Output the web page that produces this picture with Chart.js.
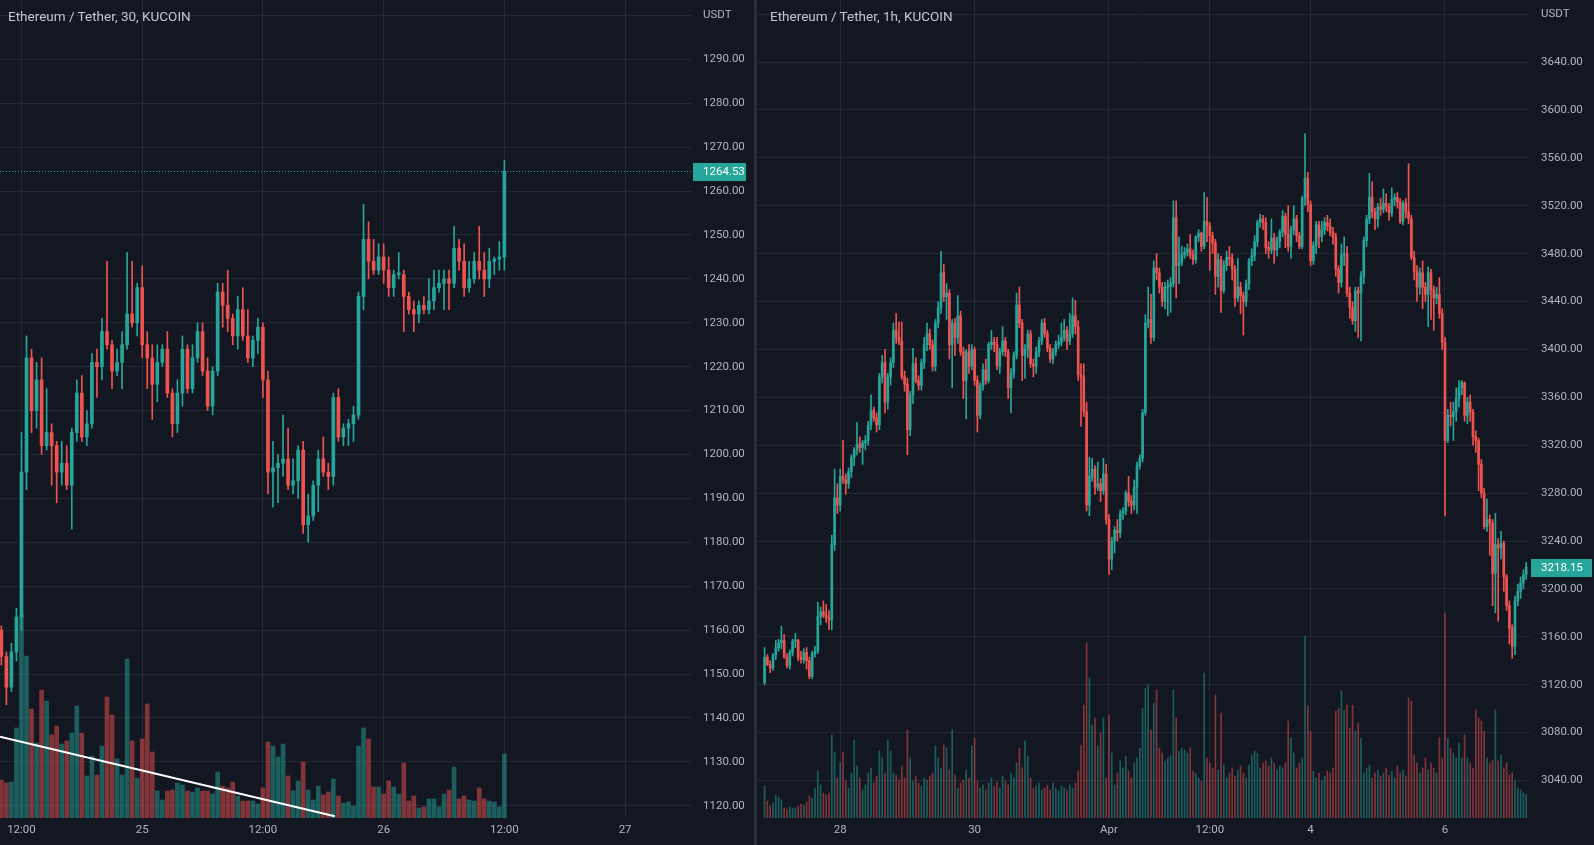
<!DOCTYPE html>
<html>
<head>
<meta charset="utf-8">
<title>ETH / USDT</title>
<script src="https://cdn.jsdelivr.net/npm/chart.js@4.4.1/dist/chart.umd.min.js"></script>
<style>
  html, body { margin: 0; padding: 0; background: #131722; overflow: hidden; }
  #wrap { position: relative; width: 1594px; height: 845px; background: #131722; }
  .pane { position: absolute; top: 0; height: 845px; }
  .pane canvas { display: block; }
  #leftPane { left: 0; width: 754px; }
  #rightPane { left: 757px; width: 837px; }
  #divider { position: absolute; left: 754px; top: 0; width: 3px; height: 845px; background: #2a2e39; }
  .title { position: absolute; top: 8px; font: 13.5px Roboto, sans-serif; color: #c3c6ce; line-height: 16px; white-space: nowrap; }
</style>
</head>
<body>
<div id="wrap">
  <div class="pane" id="leftPane"><canvas id="leftChart" width="754" height="845"></canvas></div>
  <div id="divider"></div>
  <div class="pane" id="rightPane"><canvas id="rightChart" width="837" height="845"></canvas></div>
  <div class="title" style="left:8px">Ethereum / Tether, 30, KUCOIN</div>
  <div class="title" style="left:770px">Ethereum / Tether, 1h, KUCOIN</div>
</div>
<script>
// ---- left chart: 30 min candles, 24 Nov 10:00 -> 26 Nov 12:00 ----
var leftOpen = [1160,1154,1147,1155,1163,1196,1222,1210,1217,1202,1205,1202,1196,1198,1193,1205,1214,1204,1207,1221,
  1220,1228,1225,1219,1221,1225,1232,1230,1238,1225,1222,1216,1221,1224,1214,1207,1214,1224,1215,1222,
  1228,1219,1211,1219,1237,1234,1231,1227,1233,1227,1222,1226,1229,1217,1196,1197,1198,1199,1193,1194,
  1201,1184,1186,1193,1199,1196,1195,1213,1204,1206,1207,1209,1236,1249,1244,1242,1245,1242,1238,1241,
  1241,1236,1233,1232,1234,1233,1235,1238,1239,1240,1239,1247,1244,1238,1240,1244,1242,1240,1244,1244.5,1245];
var leftHigh = [1161,1155,1157,1165,1205,1227,1224,1221,1222,1215,1207,1203,1203,1202,1206,1217,1218,1210,1223,1224,
  1231,1244,1226,1224,1228,1246,1244,1239,1243,1228,1225,1225,1225,1228,1215,1217,1227,1225,1225,1230,
  1230,1222,1220,1239,1239,1242,1232,1236,1238,1233,1227,1231,1230,1219,1203,1200,1209,1206,1199,1202,
  1203,1191,1194,1201,1204,1198,1214,1215,1207,1208,1211,1237,1257,1253,1249,1248,1248,1245,1242,1246,
  1242,1237,1235,1235,1236,1240,1242,1242,1242,1242,1252,1249,1248,1244,1246,1252,1246,1247,1245,1248.5,1267];
var leftLow = [1152,1143,1146,1153,1160,1192,1205,1206,1200,1201,1193,1189,1193,1192,1183,1203,1203,1202,1206,1213,
  1217,1224,1215,1218,1215,1224,1229,1227,1222,1215,1208,1212,1220,1213,1204,1205,1211,1214,1214,1221,
  1218,1210,1209,1218,1229,1228,1225,1224,1226,1221,1220,1223,1213,1191,1188,1189,1195,1192,1191,1190,
  1182,1180,1185,1187,1195,1192,1193,1203,1202,1202,1203,1208,1233,1240,1241,1241,1239,1236,1236,1240,
  1228,1232,1228,1230,1232,1232,1233,1237,1233,1233,1238,1242,1236,1237,1239,1240,1236,1238,1241,1242,1242];
var leftClose = [1154,1147,1155,1163,1196,1222,1210,1217,1202,1205,1202,1196,1198,1193,1205,1214,1204,1207,1221,1220,
  1228,1225,1219,1221,1225,1232,1230,1238,1225,1222,1216,1221,1224,1214,1207,1214,1224,1215,1222,1228,
  1219,1211,1219,1237,1234,1231,1227,1233,1227,1222,1226,1229,1217,1196,1197,1198,1199,1193,1194,1201,
  1184,1186,1193,1199,1196,1195,1213,1204,1206,1207,1209,1236,1249,1244,1242,1245,1242,1238,1241,1241.4,
  1236,1233,1232,1234,1233,1235,1238,1239,1240,1239,1247,1244,1238,1240,1244,1242,1240,1244,1244.5,1245,1264.53];
var leftVolume = [38,35,36,90,203,162,109,75,128,117,83,92,74,77,85,112,85,42,62,43,
  72,121,103,59,43,159,77,40,79,114,66,27,18,27,28,35,33,27,26,30,
  27,27,24,46,32,30,36,22,17,17,17,14,30,76,72,61,74,42,27,37,
  56,28,18,32,23,26,39,22,15,16,12,72,90,79,31,31,24,37,31,24,
  55,17,22,10,11,19,19,11,24,28,51,19,22,18,17,30,19,17,16,11,64];
var leftTickIdx = [4, 28, 52, 76, 100, 124];
var leftTickLabels = ['12:00', '25', '12:00', '26', '12:00', '27'];
var leftPriceTicks = [1120,1130,1140,1150,1160,1170,1180,1190,1200,1210,1220,1230,1240,1250,1260,1270,1280,1290,1300];
// hand drawn trend line on the volume pane
var trendIdx = [-0.27, 66.3];
var trendPrice = [1135.7, 1117.6];

// ---- right chart: 1h candles, 27 Mar 21:00 -> 7 Apr 06:00 ----
var rightOpen = [3122,3143,3137,3134,3145,3151,3155,3157,3143,3136,3147,3156,3157,3143,3141,3147,3140,3127,3146,3148,
  3177,3181,3178,3176,3174,3237,3276,3270,3294,3291,3288,3298,3310,3316,3321,3318,3322,3324,3337,3349,
  3343,3337,3377,3389,3356,3377,3389,3416,3410,3407,3377,3371,3333,3362,3388,3374,3370,3389,3404,3413,
  3404,3386,3422,3435,3464,3444,3447,3404,3422,3410,3428,3398,3374,3398,3386,3400,3374,3345,3370,3383,
  3374,3404,3406,3404,3386,3398,3407,3398,3368,3380,3395,3437,3422,3395,3400,3413,3388,3386,3398,3407,
  3422,3413,3401,3392,3398,3404,3406,3410,3416,3407,3413,3428,3419,3379,3377,3348,3270,3294,3300,3285,
  3288,3282,3296,3258,3225,3240,3249,3247,3263,3265,3280,3273,3270,3285,3303,3309,3347,3422,3425,3410,
  3468,3464,3452,3440,3452,3453,3455,3510,3470,3473,3479,3481,3484,3479,3475,3494,3497,3486,3507,3503,
  3495,3489,3461,3475,3449,3470,3477,3476,3467,3443,3452,3445,3440,3455,3474,3478,3490,3506,3509,3506,
  3485,3483,3493,3483,3490,3498,3511,3496,3486,3500,3509,3495,3486,3526,3543,3521,3474,3487,3504,3494,
  3500,3506,3503,3498,3494,3467,3456,3479,3480,3447,3435,3424,3449,3447,3461,3491,3509,3527,3515,3509,
  3519,3517,3522,3519,3514,3525,3527,3523,3507,3522,3515,3509,3477,3465,3452,3464,3452,3446,3464,3450,
  3443,3446,3430,3406,3324,3345,3344,3348,3359,3368,3372,3345,3356,3348,3327,3324,3304,3280,3252,3258,
  3255,3213,3237,3234,3238,3210,3186,3167,3152,3190,3198,3205,3212];
var rightHigh = [3151,3145,3140,3146,3157,3158,3169,3162,3146,3149,3158,3163,3158,3148,3150,3151,3143,3148,3152,3189,
  3185,3190,3187,3182,3245,3300,3288,3300,3324,3296,3301,3312,3318,3339,3327,3324,3328,3340,3362,3352,
  3347,3380,3395,3400,3380,3393,3422,3430,3423,3423,3382,3376,3365,3401,3393,3378,3392,3410,3422,3417,
  3408,3425,3440,3482,3471,3455,3450,3425,3426,3445,3432,3402,3400,3404,3404,3402,3378,3372,3388,3392,
  3406,3416,3410,3410,3401,3419,3410,3400,3384,3398,3447,3452,3425,3404,3416,3416,3392,3402,3410,3425,
  3426,3416,3404,3401,3407,3412,3422,3425,3419,3430,3443,3441,3424,3388,3388,3356,3310,3309,3303,3306,
  3292,3309,3304,3262,3243,3252,3258,3266,3268,3282,3294,3278,3291,3306,3312,3350,3429,3452,3446,3474,
  3480,3468,3456,3456,3458,3460,3524,3524,3494,3486,3485,3488,3496,3483,3495,3500,3498,3531,3527,3506,
  3498,3492,3480,3478,3474,3482,3486,3480,3470,3476,3456,3448,3458,3476,3484,3495,3508,3513,3512,3510,
  3490,3509,3497,3494,3500,3516,3514,3520,3503,3520,3512,3498,3528,3580,3548,3524,3490,3507,3507,3507,
  3510,3512,3509,3502,3497,3470,3488,3494,3486,3452,3440,3452,3452,3465,3494,3512,3547,3540,3518,3522,
  3526,3534,3530,3522,3535,3530,3531,3526,3524,3526,3555,3512,3482,3470,3468,3474,3456,3469,3467,3453,
  3452,3460,3434,3410,3350,3356,3356,3368,3374,3374,3373,3360,3362,3350,3332,3326,3308,3284,3275,3262,
  3258,3263,3242,3248,3240,3212,3190,3170,3194,3204,3210,3216,3222];
var rightLow = [3120,3136,3130,3132,3141,3148,3150,3142,3134,3133,3144,3151,3140,3138,3138,3133,3125,3125,3143,3146,
  3170,3176,3172,3166,3166,3232,3263,3265,3288,3279,3284,3293,3303,3312,3314,3304,3316,3320,3333,3340,
  3331,3333,3372,3347,3350,3370,3385,3405,3404,3375,3365,3312,3328,3355,3372,3366,3366,3384,3399,3400,
  3382,3382,3418,3430,3440,3425,3392,3368,3395,3405,3395,3359,3342,3380,3383,3370,3331,3342,3366,3371,
  3372,3400,3398,3383,3380,3395,3394,3359,3347,3376,3392,3418,3374,3376,3393,3385,3377,3380,3394,3404,
  3410,3398,3389,3388,3395,3401,3403,3407,3400,3404,3410,3413,3374,3336,3344,3265,3261,3290,3279,3282,
  3273,3279,3254,3212,3216,3230,3240,3243,3258,3262,3269,3263,3266,3263,3300,3306,3345,3418,3405,3407,
  3458,3447,3436,3434,3428,3431,3452,3443,3455,3470,3476,3478,3476,3471,3472,3490,3482,3484,3490,3466,
  3480,3446,3452,3431,3447,3466,3470,3458,3436,3440,3430,3412,3436,3450,3470,3474,3486,3502,3500,3480,
  3476,3480,3472,3478,3485,3494,3485,3482,3476,3496,3490,3484,3484,3520,3515,3470,3471,3480,3485,3490,
  3496,3499,3495,3488,3461,3447,3452,3470,3444,3426,3421,3415,3410,3407,3455,3486,3505,3510,3500,3502,
  3512,3514,3515,3508,3511,3520,3518,3505,3504,3510,3505,3475,3458,3440,3446,3434,3440,3419,3425,3416,
  3438,3426,3400,3261,3322,3336,3324,3340,3352,3362,3340,3338,3340,3320,3314,3282,3276,3250,3248,3228,
  3186,3180,3173,3225,3198,3182,3154,3142,3145,3186,3192,3200,3208];
var rightClose = [3143,3137,3134,3145,3151,3155,3157,3143,3136,3147,3156,3157,3143,3141,3147,3140,3127,3146,3148,3177,
  3181,3178,3176,3174,3237,3276,3270,3294,3291,3288,3298,3310,3316,3321,3318,3322,3324,3337,3349,3343,
  3337,3377,3389,3356,3377,3389,3416,3410,3407,3377,3371,3333,3362,3388,3374,3370,3389,3404,3413,3404,
  3386,3422,3435,3464,3444,3447,3404,3422,3410,3428,3398,3374,3398,3386,3400,3374,3345,3370,3383,3374,
  3404,3406,3404,3386,3398,3407,3398,3368,3380,3395,3437,3422,3395,3400,3413,3388,3386,3398,3407,3422,
  3413,3401,3392,3398,3404,3406,3410,3416,3407,3413,3428,3419,3379,3377,3348,3270,3294,3300,3285,3288,
  3282,3296,3258,3225,3240,3249,3247,3263,3265,3280,3273,3270,3285,3303,3309,3347,3422,3425,3410,3468,
  3464,3452,3440,3452,3453,3455,3510,3470,3473,3479,3481,3484,3479,3475,3494,3497,3486,3507,3503,3495,
  3489,3461,3475,3449,3470,3477,3476,3467,3443,3452,3445,3440,3455,3474,3478,3490,3506,3509,3506,3485,
  3483,3493,3483,3490,3498,3511,3496,3486,3500,3509,3495,3486,3526,3543,3521,3474,3487,3504,3494,3500,
  3506,3503,3498,3494,3467,3456,3479,3480,3447,3435,3424,3449,3447,3461,3491,3509,3527,3515,3509,3519,
  3517,3522,3519,3514,3525,3527,3523,3507,3522,3515,3509,3477,3465,3452,3464,3452,3446,3464,3450,3443,
  3446,3430,3406,3324,3345,3344,3348,3359,3368,3372,3345,3356,3348,3327,3324,3304,3280,3252,3258,3255,
  3213,3237,3234,3238,3210,3186,3167,3152,3190,3198,3205,3212,3218.15];
var rightVolume = [32,17,12,15,23,21,18,10,9,11,10,10,12,14,13,16,22,20,30,47,
  33,25,23,25,83,66,40,55,66,37,30,45,78,52,40,28,33,45,50,35,
  42,67,60,45,78,67,45,43,38,52,40,88,60,37,42,35,32,40,38,42,
  45,72,60,50,73,70,48,88,43,30,35,38,48,40,72,80,37,30,33,28,
  35,40,32,36,30,42,37,33,45,40,55,70,50,77,62,40,30,32,35,28,
  30,33,28,35,30,27,32,30,28,33,30,35,47,73,113,175,140,93,100,72,
  85,100,40,103,65,33,45,57,50,62,47,40,55,60,70,110,130,133,88,115,
  128,70,65,57,60,62,128,100,67,70,68,65,70,47,45,40,37,145,60,55,
  50,123,48,105,53,40,45,50,42,48,52,45,40,53,63,67,65,50,55,57,
  52,60,55,48,52,50,55,97,80,65,50,55,60,182,112,87,47,40,45,37,
  42,47,45,50,107,110,127,108,113,90,113,87,95,80,45,50,53,40,45,48,
  42,45,50,43,47,40,52,45,48,42,120,117,63,55,45,50,60,48,55,50,
  45,80,60,205,80,70,65,60,75,60,83,60,55,50,108,100,97,87,60,55,
  58,108,57,63,50,55,43,45,37,30,28,25,23];
var rightTickIdx = [27, 75, 123, 159, 195, 243];
var rightTickLabels = ['28', '30', 'Apr', '12:00', '4', '6'];
var rightPriceTicks = [3040,3080,3120,3160,3200,3240,3280,3320,3360,3400,3440,3480,3520,3560,3600,3640,3680];

var UP = '#26a69a';
var DOWN = '#ef5350';
var UP_VOL = 'rgba(38, 166, 154, 0.5)';
var DOWN_VOL = 'rgba(239, 83, 80, 0.5)';
var GRID = 'rgba(54, 58, 71, 0.5)';
var TEXT = '#b2b5be';
var FONT = { family: 'Roboto, sans-serif', size: 11.5 };

// last price marker on the price scale
const lastPricePlugin = {
  id: 'lastPrice',
  afterDatasetsDraw(chart, args, opts) {
    const ctx = chart.ctx;
    const area = chart.chartArea;
    const y = Math.round(chart.scales.y.getPixelForValue(opts.value)) + 0.5;
    ctx.save();
    if (opts.dotted) {
      ctx.strokeStyle = UP;
      ctx.lineWidth = 1;
      ctx.setLineDash([1, 2]);
      ctx.beginPath();
      ctx.moveTo(area.left, y);
      ctx.lineTo(area.right, y);
      ctx.stroke();
      ctx.setLineDash([]);
    }
    ctx.fillStyle = UP;
    ctx.fillRect(area.right + 1, Math.round(y - 9), opts.boxWidth, 18);
    ctx.fillStyle = '#ffffff';
    ctx.font = '11.5px Roboto, sans-serif';
    ctx.textBaseline = 'middle';
    ctx.fillText(opts.value.toFixed(2), area.right + 11, y + 1);
    ctx.restore();
  }
};

function candleChart(canvasId, o) {
  var idx = o.close.map(function (c, i) { return i; });
  var up = o.close.map(function (c, i) { return c >= o.open[i]; });
  var candleColors = up.map(function (u) { return u ? UP : DOWN; });
  var volColors = up.map(function (u) { return u ? UP_VOL : DOWN_VOL; });

  var datasets = [
    {
      type: 'bar', label: 'Body', yAxisID: 'y', order: 1, grouped: false,
      data: idx.map(function (i) { return { x: i, y: [Math.min(o.open[i], o.close[i]), Math.max(o.open[i], o.close[i])] }; }),
      backgroundColor: candleColors, barThickness: o.bodyWidth, minBarLength: 1
    },
    {
      type: 'bar', label: 'Wick', yAxisID: 'y', order: 2, grouped: false,
      data: idx.map(function (i) { return { x: i, y: [o.low[i], o.high[i]] }; }),
      backgroundColor: candleColors, barThickness: 1
    },
    {
      type: 'bar', label: 'Volume', yAxisID: 'v', order: 3, grouped: false,
      data: idx.map(function (i) { return { x: i, y: o.volume[i] }; }),
      backgroundColor: volColors, barThickness: o.volWidth
    }
  ];
  if (o.trendIdx) {
    datasets.push({
      type: 'line', label: 'Trend', yAxisID: 'y', order: 0,
      data: o.trendIdx.map(function (x, i) { return { x: x, y: o.trendPrice[i] }; }),
      borderColor: '#ffffff', borderWidth: 2, pointRadius: 0
    });
  }

  return new Chart(document.getElementById(canvasId), {
    type: 'bar',
    data: { datasets: datasets },
    options: {
      responsive: false,
      animation: false,
      devicePixelRatio: 1,
      layout: { padding: 0 },
      events: [],
      plugins: {
        legend: { display: false },
        tooltip: { enabled: false },
        lastPrice: { value: o.close[o.close.length - 1], dotted: o.dotted, boxWidth: o.boxWidth }
      },
      scales: {
        x: {
          type: 'linear', min: o.xMin, max: o.xMax, offset: false, bounds: 'data',
          afterBuildTicks: function (s) { s.ticks = o.tickIdx.map(function (v) { return { value: v }; }); },
          afterFit: function (s) { s.height = 27; s.paddingLeft = 0; s.paddingRight = 0; },
          ticks: {
            autoSkip: false, maxRotation: 0, padding: 5, color: TEXT, font: FONT,
            callback: function (v) { var k = o.tickIdx.indexOf(v); return k >= 0 ? o.tickLabels[k] : ''; }
          },
          grid: { color: GRID, drawTicks: false, offset: false },
          border: { display: false }
        },
        y: {
          type: 'linear', position: 'right', min: o.yMin, max: o.yMax, bounds: 'data',
          afterBuildTicks: function (s) { s.ticks = o.priceTicks.map(function (v) { return { value: v }; }); },
          afterFit: function (s) { s.width = o.axisWidth; s.paddingTop = 0; s.paddingBottom = 0; },
          ticks: {
            padding: 11, color: TEXT, font: FONT,
            callback: function (v) { return v === o.priceTicks[o.priceTicks.length - 1] ? 'USDT' : v.toFixed(2); }
          },
          grid: { color: GRID, drawTicks: false },
          border: { display: false }
        },
        v: { axis: 'y', type: 'linear', display: false, min: 0, max: 818 }
      }
    },
    plugins: [lastPricePlugin]
  });
}

candleChart('leftChart', {
  open: leftOpen, high: leftHigh, low: leftLow, close: leftClose, volume: leftVolume,
  tickIdx: leftTickIdx, tickLabels: leftTickLabels, priceTicks: leftPriceTicks,
  trendIdx: trendIdx, trendPrice: trendPrice,
  xMin: -0.27, xMax: 137.3, yMin: 1117.2, yMax: 1303.53,
  bodyWidth: 3, volWidth: 4, axisWidth: 62, boxWidth: 53, dotted: true
});

candleChart('rightChart', {
  open: rightOpen, high: rightHigh, low: rightLow, close: rightClose, volume: rightVolume,
  tickIdx: rightTickIdx, tickLabels: rightTickLabels, priceTicks: rightPriceTicks,
  xMin: -2.71, xMax: 273.36, yMin: 3008.7, yMax: 3691.8,
  bodyWidth: 2, volWidth: 1, axisWidth: 64, boxWidth: 61, dotted: false
});
</script>
</body>
</html>
